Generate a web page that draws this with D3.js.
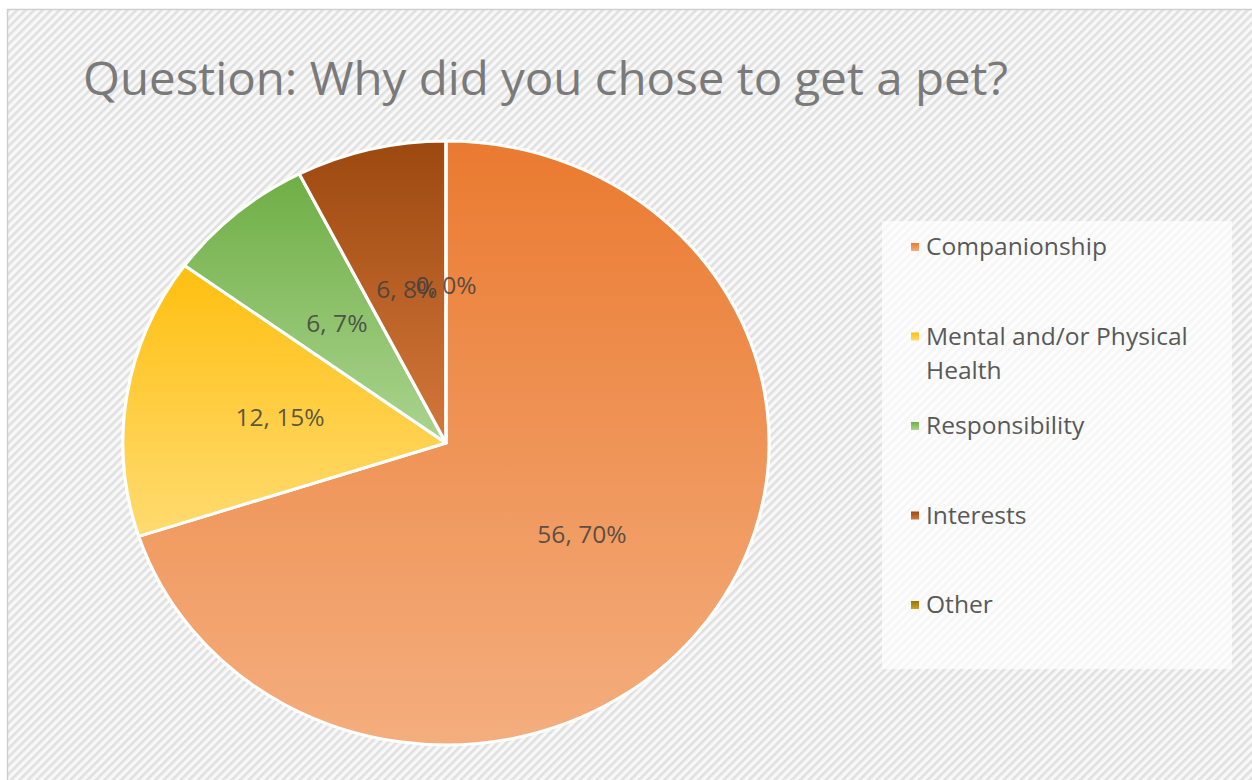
<!DOCTYPE html>
<html>
<head>
<meta charset="utf-8">
<script src="https://cdn.jsdelivr.net/npm/d3@7"></script>
<style>
  html, body { margin: 0; padding: 0; background: #fff; }
  svg { display: block; }
</style>
</head>
<body>
<svg id="chart"></svg>
<script>
// chart data
const categories = ['Companionship', 'Mental and/or Physical Health', 'Responsibility', 'Interests', 'Other']
const counts = [56, 12, 6, 6, 0]
const percents = ['70%', '15%', '7%', '8%', '0%']
const legendLines = [['Companionship'], ['Mental and/or Physical', 'Health'], ['Responsibility'], ['Interests'], ['Other']]

const width = 1252
const height = 780
const cx = 446
const cy = 443
const radius = 302
const stretch = 1.07

// top / bottom colours of each slice gradient
const topColors = ['#ea7a30', '#ffbf10', '#6fae45', '#9c480f', '#9a7400']
const bottomColors = ['#f4ae7e', '#ffdb70', '#aad48f', '#d4783c', '#c9a030']

const svg = d3.select('#chart').attr('width', width).attr('height', height)
const defs = svg.append('defs')

// hatched background
const pattern = defs.append('pattern')
  .attr('id', 'hatch')
  .attr('patternUnits', 'userSpaceOnUse')
  .attr('width', 6)
  .attr('height', 6)
  .attr('patternTransform', 'rotate(45)')
pattern.append('rect').attr('width', 6).attr('height', 6).attr('fill', '#f8f8f8')
pattern.append('rect').attr('width', 2.6).attr('height', 6).attr('fill', '#e0e0e0')

svg.append('rect')
  .attr('x', 7.5).attr('y', 9.5)
  .attr('width', width).attr('height', height)
  .attr('fill', 'url(#hatch)')
  .attr('stroke', '#cfcfcf')
  .attr('stroke-width', 1.5)

// title
svg.append('text')
  .attr('x', 83)
  .attr('y', 95)
  .attr('textLength', 925)
  .attr('lengthAdjust', 'spacingAndGlyphs')
  .style('font-family', '"Open Sans", sans-serif')
  .style('font-size', '45px')
  .style('fill', '#7a7a7a')
  .text('Question: Why did you chose to get a pet?')

// gradients, one per slice
categories.forEach((c, i) => {
  const g = defs.append('linearGradient')
    .attr('id', 'grad' + i)
    .attr('x1', '0%').attr('y1', '0%')
    .attr('x2', '0%').attr('y2', '100%')
  g.append('stop').attr('offset', '0%').attr('stop-color', topColors[i])
  g.append('stop').attr('offset', '100%').attr('stop-color', bottomColors[i])
})

const pie = d3.pie().sort(null).value(d => d)
const arcs = pie(counts)
const arc = d3.arc().innerRadius(0).outerRadius(radius)
const labelArc = d3.arc().innerRadius(radius * 0.52).outerRadius(radius * 0.52)

const pieG = svg.append('g')
  .attr('transform', `translate(${cx},${cy}) scale(${stretch},1)`)

pieG.selectAll('path')
  .data(arcs)
  .enter()
  .append('path')
  .attr('d', arc)
  .attr('fill', (d, i) => `url(#grad${i})`)
  .attr('stroke', '#fff')
  .attr('stroke-width', 3)
  .attr('stroke-linejoin', 'round')

// data labels
svg.selectAll('.lbl')
  .data(arcs)
  .enter()
  .append('text')
  .attr('class', 'lbl')
  .attr('transform', d => `translate(${cx + labelArc.centroid(d)[0] * stretch},${cy + labelArc.centroid(d)[1]}) scale(${stretch},1)`)
  .attr('dy', '0.35em')
  .attr('text-anchor', 'middle')
  .style('font-family', '"Open Sans", sans-serif')
  .style('font-size', '23px')
  .style('fill', '#404040')
  .style('fill-opacity', 0.85)
  .text((d, i) => counts[i] + ', ' + percents[i])

// legend panel
svg.append('rect')
  .attr('x', 882).attr('y', 221)
  .attr('width', 350).attr('height', 448)
  .attr('fill', '#fff')
  .attr('fill-opacity', 0.7)

const legendY = d3.scaleLinear().domain([0, 4]).range([247, 605])

const legend = svg.selectAll('.legend')
  .data(categories)
  .enter()
  .append('g')
  .attr('class', 'legend')
  .attr('transform', (d, i) => `translate(911,${legendY(i)})`)

legend.append('rect')
  .attr('x', 0).attr('y', -4)
  .attr('width', 8).attr('height', 8)
  .attr('fill', (d, i) => `url(#grad${i})`)

legend.append('text')
  .attr('transform', `translate(15,0) scale(${stretch},1)`)
  .style('font-family', '"Open Sans", sans-serif')
  .style('font-size', '23px')
  .style('fill', '#595959')
  .selectAll('tspan')
  .data((d, i) => legendLines[i])
  .enter()
  .append('tspan')
  .attr('x', 0)
  .attr('dy', (d, j) => j === 0 ? '0.35em' : '1.48em')
  .text(d => d)
</script>
</body>
</html>
